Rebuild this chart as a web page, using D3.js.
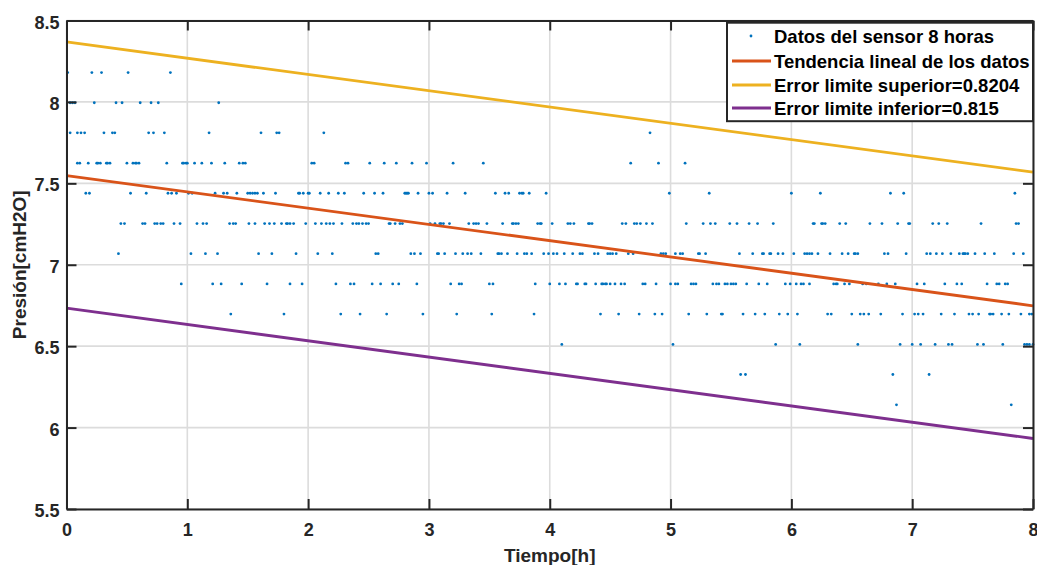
<!DOCTYPE html>
<html><head><meta charset="utf-8">
<script src="https://cdn.jsdelivr.net/npm/d3@7"></script>
<style>
html,body{margin:0;padding:0;background:#fff;}
svg{display:block;font-family:"Liberation Sans",Arial,Helvetica,sans-serif;font-weight:bold;}
</style></head>
<body><svg id="chart" width="1037" height="565"></svg>
<script>
// ---- Data ----
const xTicks = [0,1,2,3,4,5,6,7,8];
const yTicks = [5.5,6,6.5,7,7.5,8,8.5];
const xTickLabels = ["0","1","2","3","4","5","6","7","8"];
const yTickLabels = ["5.5","6","6.5","7","7.5","8","8.5"];

// quantised pressure levels of the sensor (cmH2O)
const levels = [8.18, 7.995, 7.81, 7.624, 7.439, 7.253, 7.068, 6.882, 6.697, 6.511, 6.326, 6.14];
// times (h) of samples at each level
const tL0 = [0.01,0.21,0.29,0.51,0.86];
const tL1 = [0.03,0.05,0.07,0.23,0.41,0.46,0.61,0.70,0.76,1.26];
const tL2 = [0.03,0.09,0.12,0.15,0.31,0.38,0.40,0.68,0.72,0.81,1.18,1.61,1.74,1.76,2.13,4.83];
const tL3 = [0.09,0.11,0.18,0.25,0.26,0.28,0.33,0.34,0.36,0.50,0.55,0.57,0.58,0.60,0.83,0.96,0.97,0.99,1.00,1.06,1.12,1.20,1.31,1.43,1.46,1.48,
             2.03,2.05,2.31,2.33,2.51,2.63,2.73,2.86,2.98,3.20,3.45,4.67,4.90,5.12];
const tL4 = [0.16,0.19,0.53,0.66,0.84,0.87,0.91,1.01,1.04,1.23,1.30,1.33,1.41,1.50,1.52,1.54,1.56,1.58,1.63,1.73,1.92,1.93,1.96,2.00,2.01,
             2.10,2.17,2.25,2.30,2.46,2.55,2.62,2.80,2.81,2.82,2.83,2.91,3.00,3.03,3.15,3.30,3.55,3.63,3.66,3.75,3.77,3.78,3.83,3.97,
             4.99,5.32,6.00,6.24,6.82,6.93,7.85];
const tL5 = [0.45,0.48,0.63,0.65,0.73,0.75,0.78,0.80,0.89,0.94,1.08,1.13,1.16,1.35,1.38,1.40,1.51,1.56,1.64,1.68,1.72,1.78,1.82,1.83,1.85,1.88,
             1.98,2.06,2.11,2.15,2.18,2.21,2.28,2.37,2.40,2.42,2.45,2.48,2.50,2.67,2.68,2.72,2.76,2.78,3.01,3.05,3.09,3.10,3.12,3.17,
             3.33,3.37,3.39,3.41,3.48,3.61,3.69,3.70,3.72,3.74,3.90,3.92,3.93,4.02,4.15,4.17,4.20,4.32,4.33,4.35,4.60,4.63,4.70,4.72,
             4.75,4.80,4.85,5.13,5.27,5.33,5.37,5.49,5.55,5.65,5.72,5.85,6.18,6.19,6.25,6.26,6.28,6.40,6.45,6.65,6.75,6.88,6.97,6.98,
             7.17,7.22,7.29,7.57,7.86,7.88];
const tL6 = [0.43,1.03,1.15,1.25,1.59,1.70,1.90,2.08,2.20,2.56,2.58,2.85,2.88,2.93,3.07,3.08,3.13,3.22,3.28,3.32,3.35,3.43,3.57,3.58,3.60,
             3.65,3.73,3.79,3.81,3.85,3.95,3.99,4.03,4.06,4.12,4.19,4.25,4.27,4.37,4.40,4.48,4.50,4.52,4.55,4.65,4.69,4.92,4.94,4.96,
             5.04,5.08,5.10,5.23,5.24,5.29,5.57,5.68,5.76,5.77,5.82,5.83,5.89,5.93,6.02,6.11,6.13,6.15,6.17,6.22,6.32,6.42,6.47,6.52,
             6.53,6.55,6.77,6.80,6.95,7.12,7.15,7.20,7.25,7.32,7.39,7.42,7.43,7.44,7.46,7.52,7.60,7.68,7.84,7.92];
const tL7 = [0.95,1.21,1.28,1.45,1.66,1.85,1.95,2.23,2.35,2.38,2.53,2.60,2.70,2.75,2.90,3.18,3.25,3.27,3.50,3.53,3.88,4.00,4.08,4.13,4.22,
             4.23,4.29,4.30,4.38,4.43,4.44,4.46,4.47,4.50,4.54,4.59,4.62,4.77,4.79,4.88,5.00,5.04,5.06,5.17,5.19,5.21,5.35,5.38,5.40,
             5.45,5.47,5.50,5.52,5.54,5.63,5.73,5.80,5.95,5.99,6.04,6.08,6.10,6.15,6.35,6.37,6.38,6.44,6.48,6.59,6.62,6.72,6.79,6.86,
             7.04,7.10,7.27,7.37,7.41,7.62,7.70,7.72,7.77,7.79];
const tL8 = [1.36,1.80,2.27,2.43,2.65,2.95,3.23,3.52,3.87,4.42,4.57,4.74,4.87,4.93,5.15,5.30,5.42,5.43,5.60,5.70,5.78,5.90,5.97,6.05,6.30,
             6.33,6.50,6.57,6.60,6.64,6.74,6.92,7.02,7.05,7.09,7.24,7.35,7.47,7.50,7.55,7.64,7.65,7.67,7.74,7.80,7.90,7.97,7.99];
const tL9 = [4.10,5.02,5.87,6.07,6.55,6.90,7.00,7.07,7.19,7.30,7.33,7.54,7.59,7.75,7.93,7.95,7.97,8.00];
const tL10 = [5.58,5.62,6.84,7.14];
const tL11 = [6.87,7.82];
const timesByLevel = [tL0,tL1,tL2,tL3,tL4,tL5,tL6,tL7,tL8,tL9,tL10,tL11];

// linear trend of the data and error bands
const trendTime = [0, 8];
const trendValue = [7.548, 6.748];
const errSup = 0.8204;
const errInf = 0.815;

const legendLabels = ["Datos del sensor 8 horas","Tendencia lineal de los datos","Error limite superior=0.8204","Error limite inferior=0.815"];
const colors = {data:"#0072BD", trend:"#D95319", sup:"#EDB120", inf:"#7E2F8E"};

// ---- Drawing ----
const W = 1037, H = 565;
const m = {left:66.5, right:4, top:20.5, bottom:56};
const svg = d3.select("#chart");
const pw = W - m.left - m.right, ph = H - m.top - m.bottom;
const x = d3.scaleLinear().domain([0,8]).range([m.left, m.left+pw]);
const y = d3.scaleLinear().domain([5.5,8.5]).range([m.top+ph, m.top]);
const axisColor = "#262626";

// grid
const grid = svg.append("g");
grid.selectAll("line.gx").data(xTicks).join("line")
  .attr("x1", d=>x(d)).attr("x2", d=>x(d)).attr("y1", y(5.5)).attr("y2", y(8.5))
  .attr("stroke","#dcdcdc").attr("stroke-width",1.6);
grid.selectAll("line.gy").data(yTicks).join("line")
  .attr("y1", d=>y(d)).attr("y2", d=>y(d)).attr("x1", x(0)).attr("x2", x(8))
  .attr("stroke","#dcdcdc").attr("stroke-width",1.6);

// data points
const pts = [];
timesByLevel.forEach((arr,i)=>arr.forEach(t=>pts.push({t, v:levels[i]})));
svg.append("g").selectAll("circle").data(pts).join("circle")
  .attr("cx", d=>x(d.t)).attr("cy", d=>y(d.v)).attr("r",1.4)
  .attr("fill", colors.data);

// lines
const line = d3.line().x(d=>x(d[0])).y(d=>y(d[1]));
const mk = off => trendTime.map((t,i)=>[t, trendValue[i]+off]);
const series = [
  {data: mk(0), c: colors.trend},
  {data: mk(errSup), c: colors.sup},
  {data: mk(-errInf), c: colors.inf}
];
svg.append("g").selectAll("path").data(series).join("path")
  .attr("d", d=>line(d.data)).attr("fill","none").attr("stroke", d=>d.c).attr("stroke-width",2.8);

// axes (box with inward ticks on all sides)
const ax = svg.append("g");
const tickFmt = (labels, ticks) => (d => labels[ticks.indexOf(d)]);
const gB = ax.append("g").attr("transform",`translate(0,${y(5.5)})`)
  .call(d3.axisBottom(x).tickValues(xTicks).tickFormat(tickFmt(xTickLabels,xTicks)).tickSizeInner(-10).tickSizeOuter(0).tickPadding(14));
const gT = ax.append("g").attr("transform",`translate(0,${y(8.5)})`)
  .call(d3.axisTop(x).tickValues(xTicks).tickFormat("").tickSizeInner(-10).tickSizeOuter(0));
const gL = ax.append("g").attr("transform",`translate(${x(0)},0)`)
  .call(d3.axisLeft(y).tickValues(yTicks).tickFormat(tickFmt(yTickLabels,yTicks)).tickSizeInner(-10).tickSizeOuter(0).tickPadding(7));
const gR = ax.append("g").attr("transform",`translate(${x(8)},0)`)
  .call(d3.axisRight(y).tickValues(yTicks).tickFormat("").tickSizeInner(-10).tickSizeOuter(0));
[gB,gT,gL,gR].forEach(g=>{
  g.select(".domain").attr("stroke",axisColor).attr("stroke-width",2);
  g.selectAll(".tick line").attr("stroke",axisColor).attr("stroke-width",2);
  g.selectAll(".tick text").attr("fill","#262626").style("font-family",'"Liberation Sans",Arial,sans-serif')
   .style("font-weight","bold").style("font-size","18px");
});
gL.selectAll(".tick text").attr("dy","0.42em");

// axis titles
svg.append("text").attr("x", (x(0)+x(8))/2).attr("y", 562).attr("text-anchor","middle")
  .attr("fill","#262626").style("font-size","19px").text("Tiempo[h]");
svg.append("text").attr("transform",`translate(26,${(y(5.5)+y(8.5))/2}) rotate(-90)`).attr("text-anchor","middle")
  .attr("fill","#262626").style("font-size","19px").text("Presión[cmH2O]");

// legend
const lg = svg.append("g");
const lx0 = 727, ly0 = 22.7, lw = x(8)-727, lh = 98.5;
lg.append("rect").attr("x",lx0).attr("y",ly0).attr("width",lw).attr("height",lh)
  .attr("fill","#fff").attr("stroke",axisColor).attr("stroke-width",2);
const rowY = [36, 61, 85, 108];
legendLabels.forEach((lab,i)=>{
  const yy = rowY[i];
  if(i===0){
    lg.append("circle").attr("cx",751).attr("cy",yy).attr("r",1.4).attr("fill",colors.data);
  } else {
    const c = [colors.trend, colors.sup, colors.inf][i-1];
    lg.append("line").attr("x1",732).attr("x2",771).attr("y1",yy).attr("y2",yy).attr("stroke",c).attr("stroke-width",2.8);
  }
  lg.append("text").attr("x",774).attr("y",yy).attr("dy","0.36em").attr("fill","#000")
    .style("font-size","18.5px").text(lab);
});
</script></body></html>
